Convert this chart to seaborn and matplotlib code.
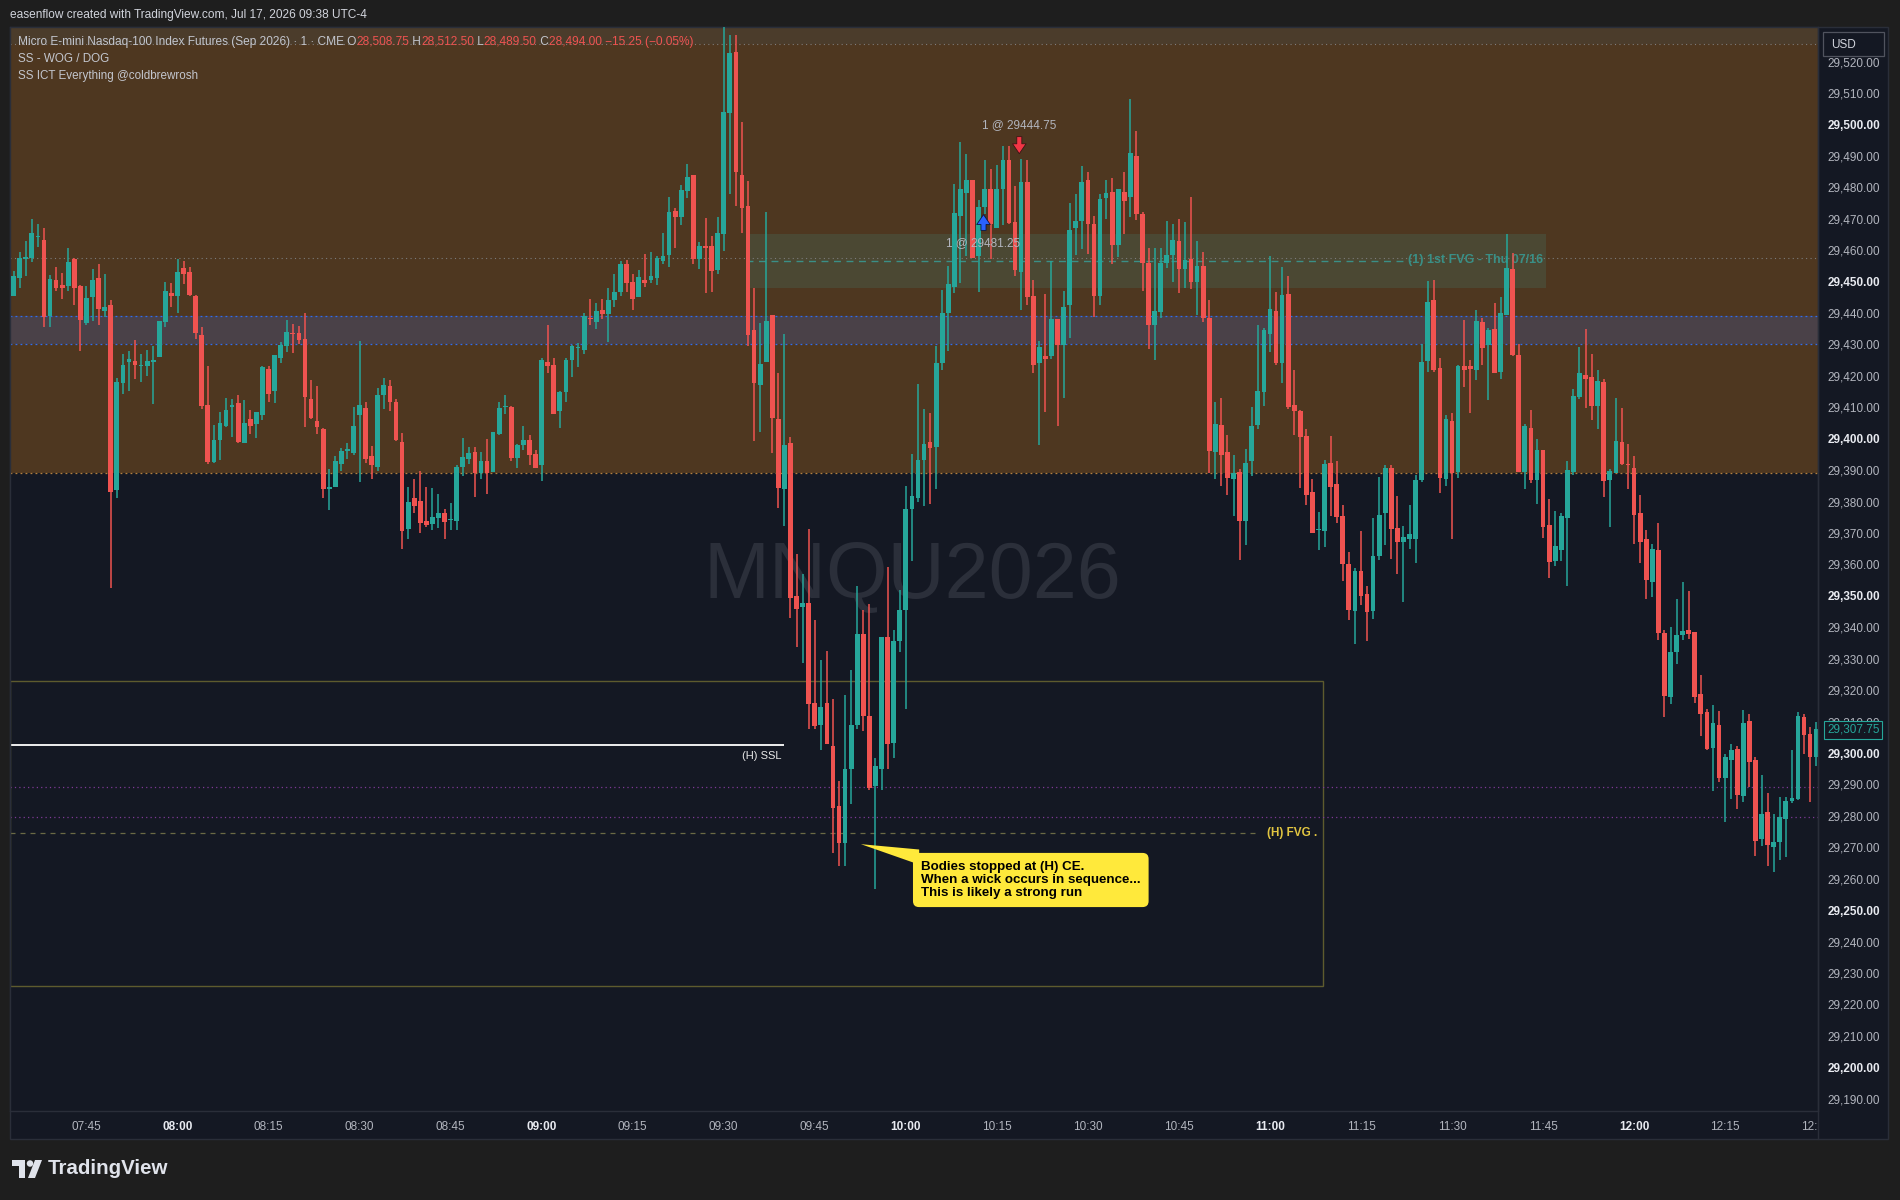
import matplotlib
matplotlib.use("Agg")
import matplotlib.pyplot as plt
import matplotlib.patches as mpatches
from matplotlib.lines import Line2D
from matplotlib.transforms import Bbox, TransformedBbox, blended_transform_factory
from matplotlib.offsetbox import TextArea, HPacker, AnnotationBbox
import numpy as np
import pandas as pd
import seaborn as sns

sns.set_theme(style="dark")
plt.rcParams['font.family'] = ['Liberation Sans', 'DejaVu Sans']

# ---------------- data (MNQU2026, 1 minute bars from 07:33) ----------------
first_bar = "07:33"

opens = [
    29445.5, 29451.2, 29457.3, 29457.6, 29464.2, 29463.3, 29439.2, 29450.6, 29449.0, 29448.7,
    29457.3, 29448.7, 29436.9, 29445.2, 29451.2, 29440.7, 29442.6, 29383.6, 29417.6, 29424.3,
    29424.8, 29423.1, 29423.0, 29424.3, 29425.9, 29437.0, 29446.5, 29445.3, 29454.4, 29453.1,
    29445.5, 29433.1, 29410.8, 29392.5, 29399.5, 29404.1, 29410.2, 29411.5, 29398.5, 29406.4,
    29404.6, 29407.7, 29422.3, 29415.1, 29425.6, 29429.4, 29433.7, 29433.7, 29431.8, 29412.7,
    29405.7, 29403.2, 29384.1, 29384.5, 29391.8, 29396.2, 29395.6, 29407.7, 29409.9, 29394.6,
    29390.9, 29413.8, 29416.9, 29411.8, 29399.0, 29371.3, 29381.2, 29380.3, 29373.9, 29372.9,
    29374.9, 29376.5, 29374.0, 29373.9, 29391.1, 29393.7, 29395.9, 29389.2, 29393.0, 29389.5,
    29401.6, 29410.0, 29410.2, 29394.0, 29398.1, 29399.7, 29395.2, 29391.7, 29424.5, 29423.6,
    29408.9, 29415.0, 29425.1, 29428.8, 29428.3, 29438.3, 29437.2, 29440.8, 29439.6, 29444.0,
    29446.6, 29455.5, 29450.0, 29445.0, 29450.4, 29450.4, 29451.1, 29456.4, 29458.3, 29472.6,
    29470.6, 29478.8, 29483.8, 29457.2, 29461.2, 29461.2, 29453.7, 29465.1, 29503.6, 29523.0,
    29484.0, 29474.1, 29434.7, 29417.0, 29424.4, 29439.3, 29406.4, 29384.0, 29398.5, 29350.1,
    29346.6, 29347.6, 29315.9, 29309.0, 29315.9, 29302.3, 29283.1, 29271.5, 29294.8, 29308.9,
    29337.9, 29311.8, 29289.4, 29294.8, 29336.9, 29303.1, 29335.6, 29345.5, 29377.6, 29381.1,
    29393.3, 29399.0, 29397.5, 29424.0, 29439.9, 29448.3, 29471.0, 29478.2, 29482.3, 29458.2,
    29473.6, 29479.3, 29466.9, 29479.3, 29488.8, 29469.1, 29452.9, 29481.8, 29445.5, 29424.0,
    29426.3, 29426.2, 29438.2, 29429.7, 29442.4, 29466.9, 29469.2, 29482.4, 29468.4, 29445.5,
    29476.5, 29478.6, 29461.5, 29478.6, 29476.8, 29490.1, 29471.6, 29456.0, 29436.1, 29440.4,
    29455.8, 29458.3, 29463.0, 29453.9, 29457.3, 29450.0, 29454.8, 29438.5, 29395.9, 29404.5,
    29395.9, 29387.3, 29389.5, 29373.9, 29393.0, 29404.5, 29415.0, 29433.4, 29440.7, 29424.2,
    29446.2, 29410.8, 29408.9, 29401.0, 29383.1, 29371.0, 29370.7, 29392.4, 29385.7, 29375.5,
    29360.2, 29345.3, 29358.0, 29350.7, 29345.3, 29362.8, 29376.5, 29390.8, 29371.5, 29367.0,
    29368.2, 29368.2, 29386.9, 29424.8, 29444.2, 29422.6, 29387.3, 29405.7, 29389.5, 29423.2,
    29423.2, 29422.0, 29437.2, 29429.9, 29435.0, 29421.3, 29439.5, 29454.1, 29426.7, 29389.5,
    29403.5, 29386.9, 29396.5, 29372.6, 29361.2, 29364.7, 29374.8, 29389.5, 29413.4, 29420.4,
    29419.7, 29410.5, 29418.1, 29387.0, 29389.2, 29399.0, 29391.8, 29390.8, 29376.5, 29368.2,
    29354.5, 29364.7, 29338.3, 29317.9, 29332.0, 29337.4, 29339.2, 29338.5, 29318.9, 29313.2,
    29301.7, 29309.0, 29292.2, 29297.9, 29301.4, 29286.4, 29310.3, 29297.9, 29272.8, 29281.1,
    29270.1, 29271.7, 29279.1, 29284.8, 29285.5, 29311.5, 29306.2, 29298.6,
]
highs = [
    29453.3, 29459.5, 29463.0, 29470.0, 29468.4, 29467.2, 29452.2, 29454.7, 29452.8, 29460.8,
    29457.5, 29449.0, 29448.7, 29454.1, 29455.7, 29452.5, 29444.2, 29419.2, 29427.1, 29428.0,
    29431.5, 29427.1, 29428.3, 29429.6, 29437.6, 29450.0, 29449.7, 29457.3, 29456.7, 29454.7,
    29445.8, 29435.4, 29423.2, 29404.4, 29408.6, 29413.0, 29412.7, 29414.0, 29412.4, 29409.2,
    29408.6, 29423.2, 29423.2, 29426.7, 29430.9, 29437.9, 29436.6, 29435.9, 29440.1, 29418.8,
    29416.9, 29403.5, 29390.5, 29394.6, 29397.1, 29398.7, 29410.2, 29431.2, 29411.8, 29397.8,
    29416.2, 29419.4, 29418.8, 29412.7, 29401.9, 29384.7, 29387.3, 29389.8, 29384.7, 29384.4,
    29382.5, 29377.7, 29379.6, 29391.7, 29400.3, 29397.5, 29397.5, 29395.9, 29400.0, 29402.2,
    29411.8, 29414.0, 29410.5, 29398.4, 29404.1, 29401.3, 29396.5, 29425.8, 29436.3, 29425.8,
    29415.3, 29425.8, 29429.7, 29430.3, 29440.1, 29444.6, 29443.3, 29444.3, 29447.8, 29452.3,
    29456.4, 29457.0, 29452.3, 29453.8, 29458.9, 29459.3, 29458.2, 29465.4, 29476.8, 29473.3,
    29480.6, 29487.5, 29483.8, 29462.6, 29470.1, 29464.4, 29470.7, 29531.3, 29528.6, 29528.4,
    29500.9, 29481.9, 29448.1, 29436.8, 29472.0, 29439.3, 29420.9, 29433.2, 29400.4, 29363.3,
    29356.9, 29371.4, 29342.3, 29329.5, 29332.5, 29317.2, 29291.2, 29318.5, 29326.4, 29353.0,
    29345.5, 29347.4, 29298.3, 29336.9, 29359.2, 29339.3, 29352.0, 29385.1, 29395.2, 29417.3,
    29409.4, 29408.3, 29429.6, 29447.4, 29455.1, 29481.2, 29494.4, 29490.6, 29482.3, 29475.8,
    29488.8, 29485.7, 29487.2, 29493.0, 29493.2, 29480.5, 29489.1, 29488.8, 29450.6, 29431.2,
    29446.1, 29456.6, 29438.2, 29447.1, 29475.1, 29478.0, 29486.9, 29485.0, 29471.0, 29478.0,
    29482.4, 29483.1, 29479.6, 29485.0, 29508.2, 29498.0, 29472.2, 29460.8, 29460.8, 29460.8,
    29469.4, 29468.4, 29470.0, 29468.8, 29477.0, 29463.0, 29459.5, 29444.2, 29411.8, 29413.1,
    29401.3, 29394.9, 29390.5, 29396.8, 29410.2, 29436.3, 29435.3, 29458.2, 29446.8, 29454.7,
    29451.9, 29422.0, 29409.2, 29403.2, 29387.3, 29376.8, 29393.3, 29401.0, 29393.0, 29379.0,
    29364.0, 29358.9, 29370.7, 29353.2, 29374.9, 29387.9, 29391.7, 29391.7, 29381.9, 29372.3,
    29379.0, 29388.4, 29430.2, 29450.3, 29450.6, 29425.8, 29407.6, 29408.3, 29423.5, 29437.9,
    29425.1, 29441.0, 29438.5, 29435.3, 29443.3, 29445.2, 29465.2, 29459.2, 29430.2, 29404.8,
    29409.2, 29400.0, 29396.5, 29380.9, 29377.1, 29376.4, 29393.0, 29415.9, 29429.3, 29435.0,
    29427.1, 29422.0, 29419.1, 29390.5, 29412.8, 29409.9, 29398.4, 29394.6, 29382.2, 29371.0,
    29366.6, 29373.3, 29339.1, 29340.1, 29349.1, 29354.5, 29351.6, 29338.5, 29324.9, 29314.1,
    29315.4, 29313.4, 29299.8, 29303.0, 29302.1, 29313.8, 29312.5, 29298.6, 29293.1, 29287.4,
    29280.7, 29286.0, 29286.0, 29301.1, 29312.9, 29312.5, 29308.3, 29310.0,
]
lows = [
    29445.5, 29447.9, 29451.9, 29456.1, 29461.1, 29435.7, 29435.7, 29447.1, 29444.3, 29447.1,
    29442.7, 29428.0, 29436.3, 29437.6, 29436.3, 29438.6, 29352.6, 29381.0, 29414.1, 29415.1,
    29418.9, 29417.9, 29419.8, 29410.9, 29425.9, 29435.7, 29441.8, 29439.9, 29449.1, 29445.5,
    29431.6, 29409.3, 29391.8, 29392.2, 29393.1, 29403.6, 29400.4, 29398.5, 29398.5, 29401.4,
    29400.1, 29405.8, 29411.6, 29411.3, 29424.0, 29427.5, 29427.2, 29430.2, 29403.6, 29406.2,
    29401.4, 29381.2, 29377.2, 29384.5, 29389.6, 29393.4, 29394.7, 29386.1, 29392.2, 29387.1,
    29389.6, 29409.3, 29408.7, 29399.2, 29364.8, 29368.0, 29376.5, 29370.0, 29372.0, 29371.0,
    29371.7, 29368.0, 29371.0, 29371.0, 29388.2, 29392.0, 29381.5, 29387.3, 29382.5, 29389.5,
    29401.3, 29408.0, 29393.0, 29390.8, 29396.5, 29391.7, 29390.8, 29386.6, 29421.0, 29408.0,
    29403.5, 29411.8, 29419.7, 29422.9, 29427.1, 29436.3, 29435.0, 29438.0, 29430.7, 29441.8,
    29445.4, 29446.8, 29441.1, 29445.0, 29448.2, 29449.7, 29449.0, 29455.7, 29454.7, 29460.8,
    29468.0, 29476.6, 29455.7, 29453.9, 29446.3, 29446.7, 29452.5, 29459.8, 29477.8, 29474.0,
    29465.5, 29429.6, 29399.2, 29402.0, 29424.4, 29395.4, 29377.8, 29372.1, 29343.0, 29333.6,
    29328.7, 29307.8, 29307.8, 29300.9, 29302.8, 29268.3, 29264.0, 29264.0, 29283.7, 29307.8,
    29307.0, 29288.3, 29256.8, 29288.3, 29294.9, 29298.5, 29332.3, 29314.0, 29361.2, 29380.0,
    29378.6, 29379.2, 29383.9, 29421.9, 29428.0, 29446.3, 29449.6, 29458.2, 29457.4, 29446.7,
    29471.4, 29457.1, 29466.9, 29468.1, 29468.4, 29451.7, 29441.0, 29442.4, 29420.8, 29398.0,
    29408.4, 29425.5, 29404.1, 29413.1, 29432.2, 29458.6, 29460.3, 29458.7, 29438.6, 29442.6,
    29470.0, 29455.5, 29457.7, 29465.0, 29470.4, 29469.5, 29446.9, 29428.5, 29424.9, 29438.4,
    29454.4, 29449.8, 29446.3, 29447.9, 29447.5, 29439.3, 29437.2, 29389.2, 29387.3, 29385.0,
    29382.2, 29375.5, 29361.5, 29366.3, 29388.2, 29403.2, 29410.5, 29427.7, 29423.6, 29417.8,
    29409.6, 29401.3, 29384.4, 29379.0, 29370.1, 29364.7, 29365.6, 29375.5, 29373.3, 29354.8,
    29342.4, 29334.7, 29347.2, 29335.7, 29342.7, 29361.5, 29366.3, 29361.8, 29357.1, 29348.2,
    29364.8, 29360.6, 29386.1, 29421.1, 29421.1, 29382.8, 29385.0, 29368.2, 29387.6, 29416.3,
    29408.3, 29418.8, 29423.5, 29412.4, 29421.0, 29419.1, 29439.5, 29426.4, 29389.5, 29384.1,
    29386.0, 29379.3, 29368.5, 29355.8, 29359.6, 29361.2, 29353.2, 29388.5, 29412.7, 29409.8,
    29406.0, 29403.0, 29381.3, 29372.0, 29389.2, 29391.6, 29384.1, 29366.6, 29360.6, 29349.1,
    29349.7, 29336.0, 29311.5, 29315.7, 29328.4, 29336.0, 29336.4, 29316.0, 29305.5, 29301.1,
    29288.0, 29290.9, 29278.1, 29285.5, 29282.3, 29284.5, 29289.2, 29267.3, 29270.5, 29264.1,
    29262.2, 29266.0, 29267.0, 29284.2, 29285.1, 29299.8, 29284.5, 29296.0,
]
closes = [
    29451.9, 29457.6, 29457.5, 29465.3, 29464.4, 29438.6, 29450.9, 29448.1, 29448.1, 29456.3,
    29448.1, 29437.9, 29444.9, 29450.6, 29441.4, 29442.0, 29383.2, 29417.9, 29423.6, 29425.5,
    29423.3, 29423.2, 29424.8, 29425.1, 29437.6, 29447.1, 29445.3, 29453.1, 29452.3, 29445.6,
    29433.5, 29410.3, 29392.5, 29399.7, 29405.1, 29409.2, 29410.4, 29398.8, 29405.1, 29404.2,
    29408.6, 29422.9, 29414.1, 29426.7, 29429.9, 29434.1, 29433.2, 29431.3, 29413.2, 29406.5,
    29403.6, 29383.9, 29384.3, 29393.0, 29396.2, 29396.4, 29404.1, 29410.8, 29393.4, 29391.5,
    29414.0, 29417.2, 29411.6, 29399.5, 29370.5, 29380.0, 29378.7, 29373.3, 29372.6, 29375.2,
    29376.5, 29373.6, 29374.2, 29391.1, 29394.3, 29395.5, 29389.2, 29393.0, 29389.2, 29402.2,
    29409.9, 29410.2, 29394.0, 29398.1, 29399.7, 29394.9, 29390.8, 29425.1, 29423.2, 29408.0,
    29415.0, 29425.1, 29429.4, 29429.0, 29438.9, 29438.1, 29440.7, 29439.7, 29444.0, 29446.8,
    29455.7, 29449.7, 29444.3, 29451.3, 29449.4, 29451.7, 29457.4, 29458.2, 29472.0, 29470.6,
    29479.0, 29483.2, 29457.2, 29461.2, 29460.6, 29453.4, 29465.4, 29503.8, 29522.7, 29484.8,
    29473.4, 29432.9, 29417.7, 29423.9, 29437.3, 29406.5, 29384.2, 29398.1, 29349.2, 29345.8,
    29347.6, 29315.6, 29308.5, 29314.7, 29302.8, 29282.6, 29271.5, 29295.0, 29308.9, 29337.9,
    29311.7, 29288.9, 29295.9, 29336.9, 29302.9, 29335.6, 29345.5, 29377.6, 29381.9, 29393.3,
    29398.4, 29397.1, 29424.0, 29439.9, 29449.1, 29471.7, 29479.5, 29482.3, 29457.4, 29473.7,
    29479.3, 29468.3, 29479.3, 29488.8, 29468.5, 29453.6, 29481.8, 29445.0, 29423.3, 29429.3,
    29425.5, 29438.2, 29429.7, 29442.0, 29466.5, 29469.4, 29481.8, 29468.2, 29445.5, 29476.4,
    29478.3, 29461.5, 29479.3, 29475.7, 29491.0, 29471.4, 29455.8, 29436.1, 29440.7, 29456.0,
    29458.3, 29463.3, 29453.9, 29457.0, 29449.8, 29454.8, 29438.5, 29396.2, 29404.8, 29394.9,
    29387.6, 29389.2, 29373.9, 29392.4, 29404.1, 29415.3, 29434.7, 29441.4, 29424.2, 29445.8,
    29410.2, 29408.9, 29400.6, 29382.2, 29370.1, 29371.2, 29392.1, 29384.7, 29375.2, 29360.2,
    29345.6, 29358.0, 29350.0, 29344.9, 29362.8, 29375.8, 29390.8, 29371.4, 29367.0, 29368.8,
    29369.8, 29386.9, 29424.5, 29443.6, 29422.0, 29387.6, 29406.4, 29389.2, 29423.2, 29422.0,
    29422.3, 29437.5, 29429.0, 29434.7, 29421.0, 29440.1, 29454.4, 29426.7, 29389.5, 29404.1,
    29386.9, 29396.5, 29372.0, 29360.8, 29366.0, 29375.5, 29390.1, 29413.7, 29421.0, 29419.1,
    29410.5, 29418.4, 29386.6, 29389.8, 29399.3, 29392.0, 29391.6, 29375.8, 29367.2, 29355.1,
    29365.0, 29338.3, 29318.2, 29332.2, 29337.6, 29338.9, 29338.0, 29317.9, 29312.5, 29301.4,
    29309.7, 29292.2, 29298.6, 29301.1, 29286.7, 29309.7, 29297.2, 29272.1, 29280.7, 29270.8,
    29271.7, 29279.7, 29284.8, 29285.8, 29311.8, 29305.8, 29298.6, 29307.75,
]

time_labels = ["07:45", "08:00", "08:15", "08:30", "08:45", "09:00", "09:15", "09:30",
               "09:45", "10:00", "10:15", "10:30", "10:45", "11:00", "11:15", "11:30",
               "11:45", "12:00", "12:15", "12:30"]
price_ticks = list(range(29190, 29521, 10))

# levels drawn on the chart
premium_zone = [29389.25, 29531.0]
wog_band = [29430.0, 29439.0]
top_dotted = 29525.75
mid_dotted = 29457.5
fvg_1st = [29448.0, 29465.25]       # (1) 1st FVG - Thu 07/16
fvg_1st_ce = 29456.5
h_fvg = [29226.0, 29323.0]          # (H) FVG
h_fvg_ce = 29274.5
h_ssl = 29302.5
purple_levels = [29289.25, 29279.75]
trade_sell = 29444.75
trade_buy = 29481.25
last_price = 29307.75

TEAL = "#26a69a"
RED = "#ef5350"
BG = "#141823"
FIG_BG = "#1e1e1e"

df = pd.DataFrame({"open": opens, "high": highs, "low": lows, "close": closes})
df["time"] = pd.date_range(f"2026-07-17 {first_bar}", periods=len(df), freq="1min")
t0 = df["time"].iloc[0]
df["x"] = (df["time"] - t0) / pd.Timedelta(minutes=1)


def xpos(hhmm):
    return (pd.Timestamp(f"2026-07-17 {hhmm}") - t0) / pd.Timedelta(minutes=1)


def fpx(x, y):
    # image pixel (from top-left) -> figure fraction
    return x / 1900, 1 - y / 1200


fig = plt.figure(figsize=(19, 12), dpi=100, facecolor=FIG_BG)

# panel behind chart + axes
fig.add_artist(mpatches.Rectangle(fpx(10, 1139), 1878 / 1900, 1112 / 1200, transform=fig.transFigure,
                                  facecolor=BG, edgecolor="#2a2e39", lw=1, zorder=-2))

ax = fig.add_axes([10 / 1900, 89 / 1200, 1808 / 1900, 1084 / 1200])
ax.set_facecolor(BG)
ax.set_xlim(-0.6, 297.3)
ax.set_ylim(29186.1, premium_zone[1])
for s in ax.spines.values():
    s.set_color("#2a2e39")
    s.set_linewidth(1)
ax.grid(False)

# zones
ax.axhspan(premium_zone[0], top_dotted, color="#4e3720", lw=0, zorder=0)
ax.axhspan(top_dotted, premium_zone[1], color="#4b3c2b", lw=0, zorder=0)
ax.axhspan(wog_band[0], wog_band[1], color="#4a4148", lw=0, zorder=0.2)
for lv in wog_band:
    ax.axhline(lv, color="#2f6cf0", lw=0.9, ls=(0, (1.5, 2.5)), zorder=1)
ax.axhline(premium_zone[0], color="#b5813f", lw=0.9, ls=(0, (1.5, 2.5)), zorder=1)
ax.axhline(top_dotted, color="#7c7c7c", lw=0.8, ls=(0, (1, 3)), zorder=1)
ax.axhline(mid_dotted, color="#7c7c7c", lw=0.8, ls=(0, (1, 3)), zorder=1.2)

# 1st FVG box
fx0, fx1 = xpos("09:33:36"), xpos("11:45:30")
ax.add_patch(mpatches.Rectangle((fx0, fvg_1st[0]), fx1 - fx0, fvg_1st[1] - fvg_1st[0],
                                facecolor="#4b4833", edgecolor="none", zorder=0.5))
ax.hlines(fvg_1st_ce, fx0, xpos("11:23:18"), color="#3a8f86", lw=1, ls=(0, (5, 4)), zorder=1.3)
ax.text(xpos("11:45:00"), fvg_1st_ce + 0.5, "(1) 1st FVG - Thu 07/16", color="#3a8f86",
        fontsize=9, fontweight="bold", ha="right", va="center", zorder=2)

# (H) FVG box, CE, SSL and purple levels
hx1 = xpos("11:08:48")
ax.add_patch(mpatches.Rectangle((-0.6, h_fvg[0]), hx1 + 0.6, h_fvg[1] - h_fvg[0],
                                facecolor="none", edgecolor="#5e5b2e", lw=1, zorder=1))
ax.hlines(h_fvg_ce, -0.6, xpos("10:57:54"), color="#6b6a45", lw=0.9, ls=(0, (4, 4)), zorder=1)
ax.text(xpos("11:07:48"), h_fvg_ce, "(H) FVG .", color="#e1c541", fontsize=8.5,
        fontweight="bold", ha="right", va="center", zorder=2)
for lv in purple_levels:
    ax.axhline(lv, color="#7e3a96", lw=0.9, ls=(0, (1, 2.5)), zorder=1)
ax.hlines(h_ssl, -0.6, xpos("09:39:54"), color="white", lw=1.3, zorder=2)
ax.text(xpos("09:39:30"), h_ssl - 3.6, "(H) SSL", color="#e8e8e8", fontsize=8,
        ha="right", va="center", zorder=2)

# watermark
ax.text(xpos("10:01"), 29356.0, "MNQU2026", fontsize=57, color="#2b2f3a",
        ha="center", va="center", zorder=0.6)

# candles
up = df["close"] >= df["open"]
colors = np.where(up, TEAL, RED)
ax.vlines(df["x"], df["low"], df["high"], colors=colors, lw=1.1, zorder=3)
body_low = np.minimum(df["open"], df["close"])
body_h = np.maximum((df["close"] - df["open"]).abs(), 0.4)
ax.bar(df["x"], body_h, bottom=body_low, width=0.78, color=colors, linewidth=0, zorder=4)

# trade markers
sx, bx = xpos("10:18:42"), xpos("10:12:48")
arrow_style = "simple,head_width=0.75,head_length=0.55,tail_width=0.28"
ax.annotate("", xy=(sx, 29489.8), xytext=(sx, 29497.0),
            arrowprops=dict(arrowstyle=arrow_style, mutation_scale=13,
                            fc="#f23645", ec="#3a1414", lw=0.6), zorder=6)
ax.annotate("", xy=(bx, 29472.2), xytext=(bx, 29465.4),
            arrowprops=dict(arrowstyle=arrow_style, mutation_scale=13,
                            fc="#2962ff", ec="#0b1640", lw=0.6), zorder=6)
ax.text(sx, 29499.9, f"1 @ {trade_sell:.2f}", color="#b2b5be", fontsize=8.5,
        ha="center", va="center", zorder=6)
ax.text(bx, 29462.3, f"1 @ {trade_buy:.2f}", color="#b2b5be", fontsize=8.5,
        ha="center", va="center", zorder=6)

# callout
tip = (xpos("09:52:36"), 29271.0)
box_left = xpos("10:01:12")
ax.add_patch(mpatches.Polygon([tip, (box_left + 1, 29269.3), (box_left + 1, 29264.5)],
                              closed=True, fc="#ffe93b", ec="none", zorder=7))
ax.text(box_left + 1.3, 29259.6,
        "Bodies stopped at (H) CE.\nWhen a wick occurs in sequence...\nThis is likely a strong run",
        color="black", fontsize=9.6, fontweight="bold", ha="left", va="center", linespacing=1.12,
        zorder=8, bbox=dict(boxstyle="round,pad=0.6,rounding_size=0.45", fc="#ffe93b", ec="none"))

# price axis
ax.yaxis.tick_right()
ax.set_yticks(price_ticks)
ax.set_yticklabels([f"{v:,.2f}" for v in price_ticks])
for lab, v in zip(ax.get_yticklabels(), price_ticks):
    if v % 50 == 0:
        lab.set_color("#e8eaf0")
        lab.set_fontweight("bold")
    else:
        lab.set_color("#b2b5be")
ax.tick_params(axis="y", length=0, pad=7, labelsize=8.5)

# time axis
ax.set_xticks([xpos(t) for t in time_labels])
ax.set_xticklabels(time_labels)
clip = TransformedBbox(Bbox.from_extents(10 / 1900, 0, 1818 / 1900, 1), fig.transFigure)
for lab, t in zip(ax.get_xticklabels(), time_labels):
    if t.endswith(":00"):
        lab.set_color("#e8eaf0")
        lab.set_fontweight("bold")
    else:
        lab.set_color("#b2b5be")
    lab.set_clip_box(clip)
    lab.set_clip_on(True)
ax.tick_params(axis="x", length=0, pad=7, labelsize=8.5)

# last price tag
blend = blended_transform_factory(ax.transAxes, ax.transData)
ax.annotate(f"{last_price:,.2f}", xy=(1.0, last_price), xycoords=blend, xytext=(9, -1),
            textcoords="offset pixels", color=TEAL, fontsize=8.5, ha="left", va="center",
            annotation_clip=False, zorder=10,
            bbox=dict(boxstyle="square,pad=0.25", fc=BG, ec=TEAL, lw=0.8))

# separator lines of the panel
fig.add_artist(Line2D([1818 / 1900, 1818 / 1900], [1 - 27 / 1200, 1 - 1139 / 1200],
                      transform=fig.transFigure, color="#2a2e39", lw=1))

# USD box
fig.add_artist(mpatches.Rectangle(fpx(1823, 56), 61 / 1900, 24 / 1200, transform=fig.transFigure,
                                  facecolor=BG, edgecolor="#50535e", lw=0.9))
fig.text(*fpx(1831, 44.5), "USD", color="#d1d4dc", fontsize=8.5, va="center", ha="left")

# header
fig.text(*fpx(10, 15), "easenflow created with TradingView.com, Jul 17, 2026 09:38 UTC-4",
         color="#d1d4dc", fontsize=8.6, va="center", ha="left")

LEG = "#c3c6ce"
legend_parts = [
    ("Micro E-mini Nasdaq-100 Index Futures (Sep 2026) · 1 · CME O", LEG),
    ("28,508.75", RED), (" H", LEG), ("28,512.50", RED),
    (" L", LEG), ("28,489.50", RED), (" C", LEG),
    ("28,494.00 −15.25 (−0.05%)", RED),
]
packer = HPacker(children=[TextArea(s, textprops=dict(color=c, fontsize=8.6)) for s, c in legend_parts],
                 align="baseline", pad=0, sep=0)
fig.add_artist(AnnotationBbox(packer, (18, 1200 - 42), xycoords="figure pixels",
                              box_alignment=(0, 0.5), frameon=False, pad=0))
fig.text(*fpx(18, 59), "SS - WOG / DOG", color=LEG, fontsize=8.4, va="center")
fig.text(*fpx(18, 76), "SS ICT Everything @coldbrewrosh", color=LEG, fontsize=8.4, va="center")

# TradingView logo
logo = "#e0e3eb"
fig.add_artist(mpatches.Rectangle(fpx(12, 1166), 13 / 1900, 6 / 1200, transform=fig.transFigure, fc=logo, ec="none"))
fig.add_artist(mpatches.Rectangle(fpx(19, 1178), 6 / 1900, 18 / 1200, transform=fig.transFigure, fc=logo, ec="none"))
fig.add_artist(mpatches.Ellipse(fpx(30, 1163.5), 6.5 / 1900, 6.5 / 1200, transform=fig.transFigure, fc=logo, ec="none"))
fig.add_artist(mpatches.Polygon([fpx(28, 1178), fpx(35, 1160), fpx(42, 1160), fpx(35, 1178)],
                                closed=True, transform=fig.transFigure, fc=logo, ec="none"))
fig.text(*fpx(48, 1169), "TradingView", color=logo, fontsize=14.8, fontweight="bold", va="center")

fig.savefig("out.png", dpi=100, facecolor=FIG_BG)
